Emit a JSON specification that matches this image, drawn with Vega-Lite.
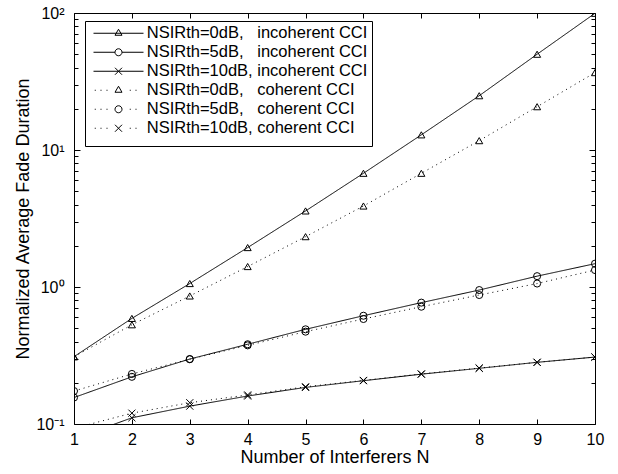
{
  "$schema": "https://vega.github.io/schema/vega-lite/v6.json",
  "width": 521,
  "height": 411,
  "autosize": {"type": "none"},
  "padding": {"left": 74, "top": 13, "right": 23, "bottom": 50},
  "background": "white",
  "config": {
    "font": "Liberation Sans",
    "view": {"stroke": "black", "strokeWidth": 1},
    "axis": {
      "grid": false, "domain": false, "tickColor": "black", "tickWidth": 1,
      "labelColor": "black", "labelFont": "Liberation Sans", "labelFontSize": 16,
      "titleFont": "Liberation Sans", "titleFontSize": 18, "titleFontWeight": "normal", "titleColor": "black",
      "labelFlush": false, "labelOverlap": false
    }
  },
  "datasets": {
    "fad": [
      {"N": 1, "value": 0.31, "series": "NSIRth=0dB,\u00a0\u00a0\u00a0incoherent CCI"},
      {"N": 2, "value": 0.59, "series": "NSIRth=0dB,\u00a0\u00a0\u00a0incoherent CCI"},
      {"N": 3, "value": 1.06, "series": "NSIRth=0dB,\u00a0\u00a0\u00a0incoherent CCI"},
      {"N": 4, "value": 1.94, "series": "NSIRth=0dB,\u00a0\u00a0\u00a0incoherent CCI"},
      {"N": 5, "value": 3.59, "series": "NSIRth=0dB,\u00a0\u00a0\u00a0incoherent CCI"},
      {"N": 6, "value": 6.76, "series": "NSIRth=0dB,\u00a0\u00a0\u00a0incoherent CCI"},
      {"N": 7, "value": 12.9, "series": "NSIRth=0dB,\u00a0\u00a0\u00a0incoherent CCI"},
      {"N": 8, "value": 24.9, "series": "NSIRth=0dB,\u00a0\u00a0\u00a0incoherent CCI"},
      {"N": 9, "value": 50.0, "series": "NSIRth=0dB,\u00a0\u00a0\u00a0incoherent CCI"},
      {"N": 10, "value": 99.5, "series": "NSIRth=0dB,\u00a0\u00a0\u00a0incoherent CCI"},
      {"N": 1, "value": 0.156, "series": "NSIRth=5dB,\u00a0\u00a0\u00a0incoherent CCI"},
      {"N": 2, "value": 0.221, "series": "NSIRth=5dB,\u00a0\u00a0\u00a0incoherent CCI"},
      {"N": 3, "value": 0.298, "series": "NSIRth=5dB,\u00a0\u00a0\u00a0incoherent CCI"},
      {"N": 4, "value": 0.382, "series": "NSIRth=5dB,\u00a0\u00a0\u00a0incoherent CCI"},
      {"N": 5, "value": 0.491, "series": "NSIRth=5dB,\u00a0\u00a0\u00a0incoherent CCI"},
      {"N": 6, "value": 0.617, "series": "NSIRth=5dB,\u00a0\u00a0\u00a0incoherent CCI"},
      {"N": 7, "value": 0.769, "series": "NSIRth=5dB,\u00a0\u00a0\u00a0incoherent CCI"},
      {"N": 8, "value": 0.95, "series": "NSIRth=5dB,\u00a0\u00a0\u00a0incoherent CCI"},
      {"N": 9, "value": 1.20, "series": "NSIRth=5dB,\u00a0\u00a0\u00a0incoherent CCI"},
      {"N": 10, "value": 1.48, "series": "NSIRth=5dB,\u00a0\u00a0\u00a0incoherent CCI"},
      {"N": 1, "value": 0.078, "series": "NSIRth=10dB, incoherent CCI"},
      {"N": 2, "value": 0.111, "series": "NSIRth=10dB, incoherent CCI"},
      {"N": 3, "value": 0.135, "series": "NSIRth=10dB, incoherent CCI"},
      {"N": 4, "value": 0.160, "series": "NSIRth=10dB, incoherent CCI"},
      {"N": 5, "value": 0.185, "series": "NSIRth=10dB, incoherent CCI"},
      {"N": 6, "value": 0.207, "series": "NSIRth=10dB, incoherent CCI"},
      {"N": 7, "value": 0.231, "series": "NSIRth=10dB, incoherent CCI"},
      {"N": 8, "value": 0.255, "series": "NSIRth=10dB, incoherent CCI"},
      {"N": 9, "value": 0.282, "series": "NSIRth=10dB, incoherent CCI"},
      {"N": 10, "value": 0.308, "series": "NSIRth=10dB, incoherent CCI"},
      {"N": 1, "value": 0.31, "series": "NSIRth=0dB,\u00a0\u00a0\u00a0coherent CCI"},
      {"N": 2, "value": 0.53, "series": "NSIRth=0dB,\u00a0\u00a0\u00a0coherent CCI"},
      {"N": 3, "value": 0.86, "series": "NSIRth=0dB,\u00a0\u00a0\u00a0coherent CCI"},
      {"N": 4, "value": 1.41, "series": "NSIRth=0dB,\u00a0\u00a0\u00a0coherent CCI"},
      {"N": 5, "value": 2.33, "series": "NSIRth=0dB,\u00a0\u00a0\u00a0coherent CCI"},
      {"N": 6, "value": 3.90, "series": "NSIRth=0dB,\u00a0\u00a0\u00a0coherent CCI"},
      {"N": 7, "value": 6.76, "series": "NSIRth=0dB,\u00a0\u00a0\u00a0coherent CCI"},
      {"N": 8, "value": 11.7, "series": "NSIRth=0dB,\u00a0\u00a0\u00a0coherent CCI"},
      {"N": 9, "value": 20.7, "series": "NSIRth=0dB,\u00a0\u00a0\u00a0coherent CCI"},
      {"N": 10, "value": 36.7, "series": "NSIRth=0dB,\u00a0\u00a0\u00a0coherent CCI"},
      {"N": 1, "value": 0.174, "series": "NSIRth=5dB,\u00a0\u00a0\u00a0coherent CCI"},
      {"N": 2, "value": 0.232, "series": "NSIRth=5dB,\u00a0\u00a0\u00a0coherent CCI"},
      {"N": 3, "value": 0.297, "series": "NSIRth=5dB,\u00a0\u00a0\u00a0coherent CCI"},
      {"N": 4, "value": 0.375, "series": "NSIRth=5dB,\u00a0\u00a0\u00a0coherent CCI"},
      {"N": 5, "value": 0.472, "series": "NSIRth=5dB,\u00a0\u00a0\u00a0coherent CCI"},
      {"N": 6, "value": 0.584, "series": "NSIRth=5dB,\u00a0\u00a0\u00a0coherent CCI"},
      {"N": 7, "value": 0.718, "series": "NSIRth=5dB,\u00a0\u00a0\u00a0coherent CCI"},
      {"N": 8, "value": 0.874, "series": "NSIRth=5dB,\u00a0\u00a0\u00a0coherent CCI"},
      {"N": 9, "value": 1.06, "series": "NSIRth=5dB,\u00a0\u00a0\u00a0coherent CCI"},
      {"N": 10, "value": 1.33, "series": "NSIRth=5dB,\u00a0\u00a0\u00a0coherent CCI"},
      {"N": 1, "value": 0.093, "series": "NSIRth=10dB, coherent CCI"},
      {"N": 2, "value": 0.120, "series": "NSIRth=10dB, coherent CCI"},
      {"N": 3, "value": 0.143, "series": "NSIRth=10dB, coherent CCI"},
      {"N": 4, "value": 0.163, "series": "NSIRth=10dB, coherent CCI"},
      {"N": 5, "value": 0.187, "series": "NSIRth=10dB, coherent CCI"},
      {"N": 6, "value": 0.208, "series": "NSIRth=10dB, coherent CCI"},
      {"N": 7, "value": 0.232, "series": "NSIRth=10dB, coherent CCI"},
      {"N": 8, "value": 0.256, "series": "NSIRth=10dB, coherent CCI"},
      {"N": 9, "value": 0.282, "series": "NSIRth=10dB, coherent CCI"},
      {"N": 10, "value": 0.308, "series": "NSIRth=10dB, coherent CCI"}
    ]
  },
  "data": {"name": "fad"},
  "layer": [
    {
      "mark": {"type": "line", "color": "black", "strokeWidth": 1, "clip": true},
      "encoding": {
        "x": {
          "field": "N", "type": "quantitative",
          "scale": {"domain": [1, 10], "nice": false, "zero": false},
          "axis": {
            "orient": "bottom", "values": [1, 2, 3, 4, 5, 6, 7, 8, 9, 10], "format": "d",
            "tickSize": -5, "labelPadding": 12, "title": "Number of Interferers N", "titlePadding": 1
          }
        },
        "y": {
          "field": "value", "type": "quantitative",
          "scale": {"type": "log", "domain": [0.1, 100], "nice": false},
          "axis": {
            "orient": "left",
            "values": [0.1, 0.2, 0.3, 0.4, 0.5, 0.6, 0.7, 0.8, 0.9, 1, 2, 3, 4, 5, 6, 7, 8, 9, 10, 20, 30, 40, 50, 60, 70, 80, 90, 100],
            "labelExpr": "datum.value == 100 ? '10²' : datum.value == 10 ? '10¹' : datum.value == 1 ? '10⁰' : datum.value == 0.1 ? '10⁻¹' : ''",
            "tickSize": {"condition": {"test": "datum.value == 0.1 || datum.value == 1 || datum.value == 10 || datum.value == 100", "value": -6}, "value": -4},
            "labelPadding": 16, "title": "Normalized Average Fade Duration", "titlePadding": 3
          }
        },
        "strokeDash": {
          "field": "series", "type": "nominal",
          "scale": {
            "domain": [
              "NSIRth=0dB,\u00a0\u00a0\u00a0incoherent CCI",
              "NSIRth=5dB,\u00a0\u00a0\u00a0incoherent CCI",
              "NSIRth=10dB, incoherent CCI",
              "NSIRth=0dB,\u00a0\u00a0\u00a0coherent CCI",
              "NSIRth=5dB,\u00a0\u00a0\u00a0coherent CCI",
              "NSIRth=10dB, coherent CCI"
            ],
            "range": [[1, 0], [1, 0], [1, 0], [1, 4], [1, 4], [1, 4]]
          },
          "legend": null
        }
      }
    },
    {
      "mark": {"type": "point", "filled": false, "color": "black", "strokeWidth": 1, "size": 50, "clip": true, "opacity": 1},
      "encoding": {
        "x": {
          "field": "N", "type": "quantitative",
          "axis": {"orient": "top", "values": [1, 2, 3, 4, 5, 6, 7, 8, 9, 10], "labels": false, "title": null, "tickSize": -5}
        },
        "y": {
          "field": "value", "type": "quantitative",
          "axis": {
            "orient": "right", "labels": false, "title": null,
            "values": [0.1, 0.2, 0.3, 0.4, 0.5, 0.6, 0.7, 0.8, 0.9, 1, 2, 3, 4, 5, 6, 7, 8, 9, 10, 20, 30, 40, 50, 60, 70, 80, 90, 100],
            "tickSize": {"condition": {"test": "datum.value == 0.1 || datum.value == 1 || datum.value == 10 || datum.value == 100", "value": -6}, "value": -4}
          }
        },
        "shape": {
          "field": "series", "type": "nominal",
          "scale": {
            "domain": [
              "NSIRth=0dB,\u00a0\u00a0\u00a0incoherent CCI",
              "NSIRth=5dB,\u00a0\u00a0\u00a0incoherent CCI",
              "NSIRth=10dB, incoherent CCI",
              "NSIRth=0dB,\u00a0\u00a0\u00a0coherent CCI",
              "NSIRth=5dB,\u00a0\u00a0\u00a0coherent CCI",
              "NSIRth=10dB, coherent CCI"
            ],
            "range": ["triangle-up", "circle", "M-1,-1L1,1M-1,1L1,-1", "triangle-up", "circle", "M-1,-1L1,1M-1,1L1,-1"]
          },
          "legend": null
        }
      }
    },
    {
      "mark": {"type": "point", "filled": false, "color": "black", "strokeWidth": 1, "size": 100, "opacity": 0},
      "encoding": {
        "x": {"field": "N", "type": "quantitative", "axis": null},
        "y": {"field": "value", "type": "quantitative", "axis": null},
        "shape": {
          "field": "series", "type": "nominal",
          "scale": {
            "domain": [
              "NSIRth=0dB,\u00a0\u00a0\u00a0incoherent CCI",
              "NSIRth=5dB,\u00a0\u00a0\u00a0incoherent CCI",
              "NSIRth=10dB, incoherent CCI",
              "NSIRth=0dB,\u00a0\u00a0\u00a0coherent CCI",
              "NSIRth=5dB,\u00a0\u00a0\u00a0coherent CCI",
              "NSIRth=10dB, coherent CCI"
            ],
            "range": [
              "M-5,0L5,0M-0.7,0.4L0,-0.8L0.7,0.4Z",
              "M-5,0L-0.7,0M0.7,0L5,0M-0.7,0A0.7,0.7,0,1,0,0.7,0A0.7,0.7,0,1,0,-0.7,0Z",
              "M-5,0L5,0M-0.7,-0.7L0.7,0.7M-0.7,0.7L0.7,-0.7",
              "M-4.75,0h0.2M-3.6,0h0.2M-2.4,0h0.2M2.25,0h0.2M3.4,0h0.2M-0.7,0.4L0,-0.8L0.7,0.4Z",
              "M-4.75,0h0.2M-3.6,0h0.2M-2.4,0h0.2M2.25,0h0.2M3.4,0h0.2M-0.7,0A0.7,0.7,0,1,0,0.7,0A0.7,0.7,0,1,0,-0.7,0Z",
              "M-4.75,0h0.2M-3.6,0h0.2M-2.4,0h0.2M2.25,0h0.2M3.4,0h0.2M-0.7,-0.7L0.7,0.7M-0.7,0.7L0.7,-0.7"
            ]
          },
          "legend": {
            "title": " ", "titleOrient": "bottom", "titleFontSize": 5, "titlePadding": 0,
            "orient": "none", "legendX": 11, "legendY": 8,
            "padding": 4, "strokeColor": "black", "fillColor": "white",
            "rowPadding": 2, "symbolSize": 100, "symbolOffset": 21.25, "labelOffset": 20,
            "labelFontSize": 16.5, "labelFont": "Liberation Sans", "labelColor": "black", "labelLimit": 400,
            "symbolStrokeColor": "black", "symbolStrokeWidth": 1, "symbolFillColor": "transparent", "symbolOpacity": 1
          }
        }
      }
    }
  ],
  "resolve": {"axis": {"x": "independent", "y": "independent"}, "scale": {"shape": "independent"}}
}
